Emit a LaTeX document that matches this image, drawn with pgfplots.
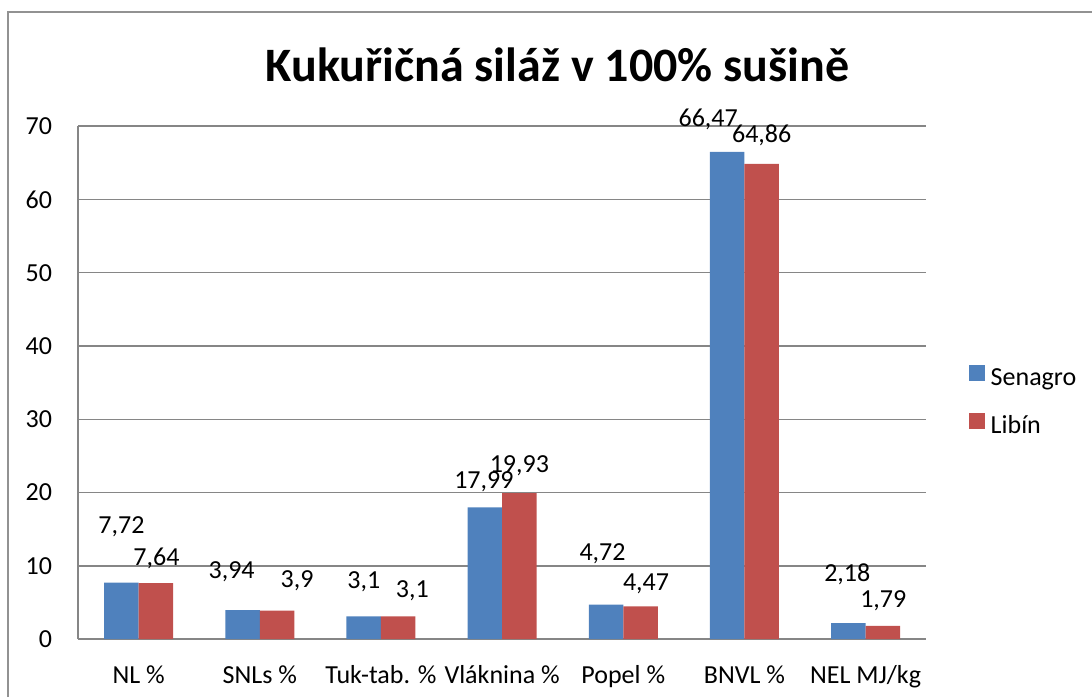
\documentclass[border=0pt]{standalone}
\usepackage{fontspec}
\setmainfont{Carlito}
\usepackage{pgfplots}
\pgfplotsset{compat=1.18}
\usepackage{pgfplotstable}
\definecolor{sblue}{HTML}{4F81BD}
\definecolor{lred}{HTML}{C0504D}
\definecolor{gridc}{HTML}{868686}
\pgfkeys{/pgf/number format/.cd, use comma, assume math mode=true}

\pgfplotstableread{
x y dx dy
0 7.72 0 56
1 3.94 -11 39
2 3.1 0 35
3 17.99 -1 26
4 4.72 -3.5 51
5 66.47 -19 33
6 2.18 -1 49
}\senagro
\pgfplotstableread{
x y dx dy
0 7.64 0.5 25
1 3.9 20 30
2 3.1 14 26
3 19.93 0 27
4 4.47 5.5 23
5 64.86 0 28
6 1.79 0.5 25
}\libin

\begin{document}
\begin{tikzpicture}[x=1pt,y=1pt]
\useasboundingbox (0,0) rectangle (1092,697);
\draw[color=gridc!90, line width=2pt] (8.3,0) -- (8.3,685.2) -- (1092,685.2);
\node[font=\fontsize{48}{56}\selectfont\bfseries, anchor=base] at (557.5,615) {Kukuřičná siláž v 100\% sušině};
\begin{axis}[
  at={(64.5,79)}, anchor=south west,
  scale only axis, width=848pt, height=513pt,
  ymin=0, ymax=70, ytick={0,10,...,70},
  xmin=-0.5, xmax=6.5, xtick={0,...,6},
  xticklabels={NL \%, SNLs \%, Tuk-tab. \%, Vláknina \%, Popel \%, BNVL \%, NEL MJ/kg},
  ybar=0pt, bar width=34.5pt,
  axis x line*=bottom, axis y line*=left,
  axis line style={gridc, line width=1.5pt, -},
  ymajorgrids, grid style={gridc, line width=1.5pt},
  major tick length=0pt,
  tick label style={font=\fontsize{26}{31}\selectfont},
  /pgf/number format/assume math mode=true,
  /pgf/number format/use comma,
  yticklabel style={anchor=east, inner sep=0pt, xshift=-26pt},
  xticklabel style={anchor=base, inner sep=0pt, yshift=-44pt},
  nodes near coords,
  every node near coord/.append style={font=\fontsize{26}{31}\selectfont, anchor=center, xshift=\dx pt, yshift=\dy pt},
  visualization depends on={\thisrow{dx}\as\dx},
  visualization depends on={\thisrow{dy}\as\dy},
  legend style={at={(axis description cs:1.050,0.4596)}, anchor=west, draw=none, fill=none,
    font=\fontsize{26}{31}\selectfont, inner sep=0pt, row sep=18pt, column sep=3pt,
    nodes={inner sep=3pt, text height=18pt, text depth=6pt}},
  legend cell align=left,
  legend image code/.code={\fill[#1] (0pt,-2pt) rectangle (16pt,14pt);},
]
\addplot[fill=sblue, draw=none] table[x=x,y=y] {\senagro};
\addplot[fill=lred, draw=none] table[x=x,y=y] {\libin};
\legend{Senagro, Libín}
\end{axis}
\end{tikzpicture}
\end{document}
